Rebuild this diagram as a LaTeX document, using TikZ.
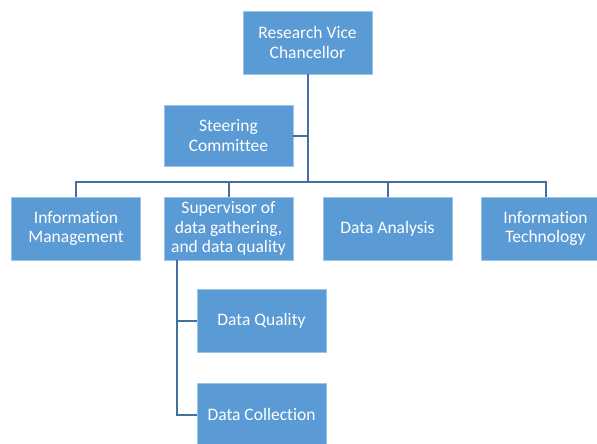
\documentclass[tikz,border=0pt]{standalone}
\usepackage{fontspec}
\setmainfont[Ligatures=CommonOff]{Carlito}
\definecolor{boxblue}{RGB}{91,155,213}
\definecolor{boxedge}{RGB}{160,196,232}
\definecolor{linkblue}{RGB}{65,113,156}
\begin{document}
\begin{tikzpicture}[x=1pt,y=-1pt,
  orgbox/.style={rectangle, fill=boxblue, draw=boxedge, line width=0.6pt,
    minimum width=129pt, minimum height=63pt, inner sep=2pt,
    text=white, align=center, font=\fontsize{17.5}{19.5}\selectfont},
  link/.style={draw=linkblue, line width=2pt}]
\useasboundingbox (0,0) rectangle (597,444);
\node[orgbox] (top) at (307.5,42.5) {Research Vice\\Chancellor};
\node[orgbox, minimum height=61pt] (steer) at (228.5,135.5) {Steering\\Committee};
\node[orgbox] (im) at (76,228.5) {Information\\Management};
\node[orgbox] (sup) at (228.5,228.5) {Supervisor of\\data gathering,\\and data quality};
\node[orgbox] (da) at (387.5,228.5) {Data Analysis};
\node[orgbox] (it) at (545.5,228.5) {Information\\Technology};
\node[orgbox] (dq) at (261.5,320.5) {Data Quality};
\node[orgbox] (dc) at (261.5,414.5) {Data Collection};
\coordinate (bus) at (307.5,182);
\coordinate (sx) at (177,0);
\draw[link] (top.south) -- (bus);
\draw[link] (steer.east) -- (steer.east -| top.south);
\draw[link] (im.north) |- (bus) -| (it.north);
\draw[link] (sup.north) -- (sup.north |- bus);
\draw[link] (da.north) -- (da.north |- bus);
\draw[link] (sup.south -| sx) |- (dc.west);
\draw[link] (dq.west) -- (dq.west -| sx);
\end{tikzpicture}
\end{document}
